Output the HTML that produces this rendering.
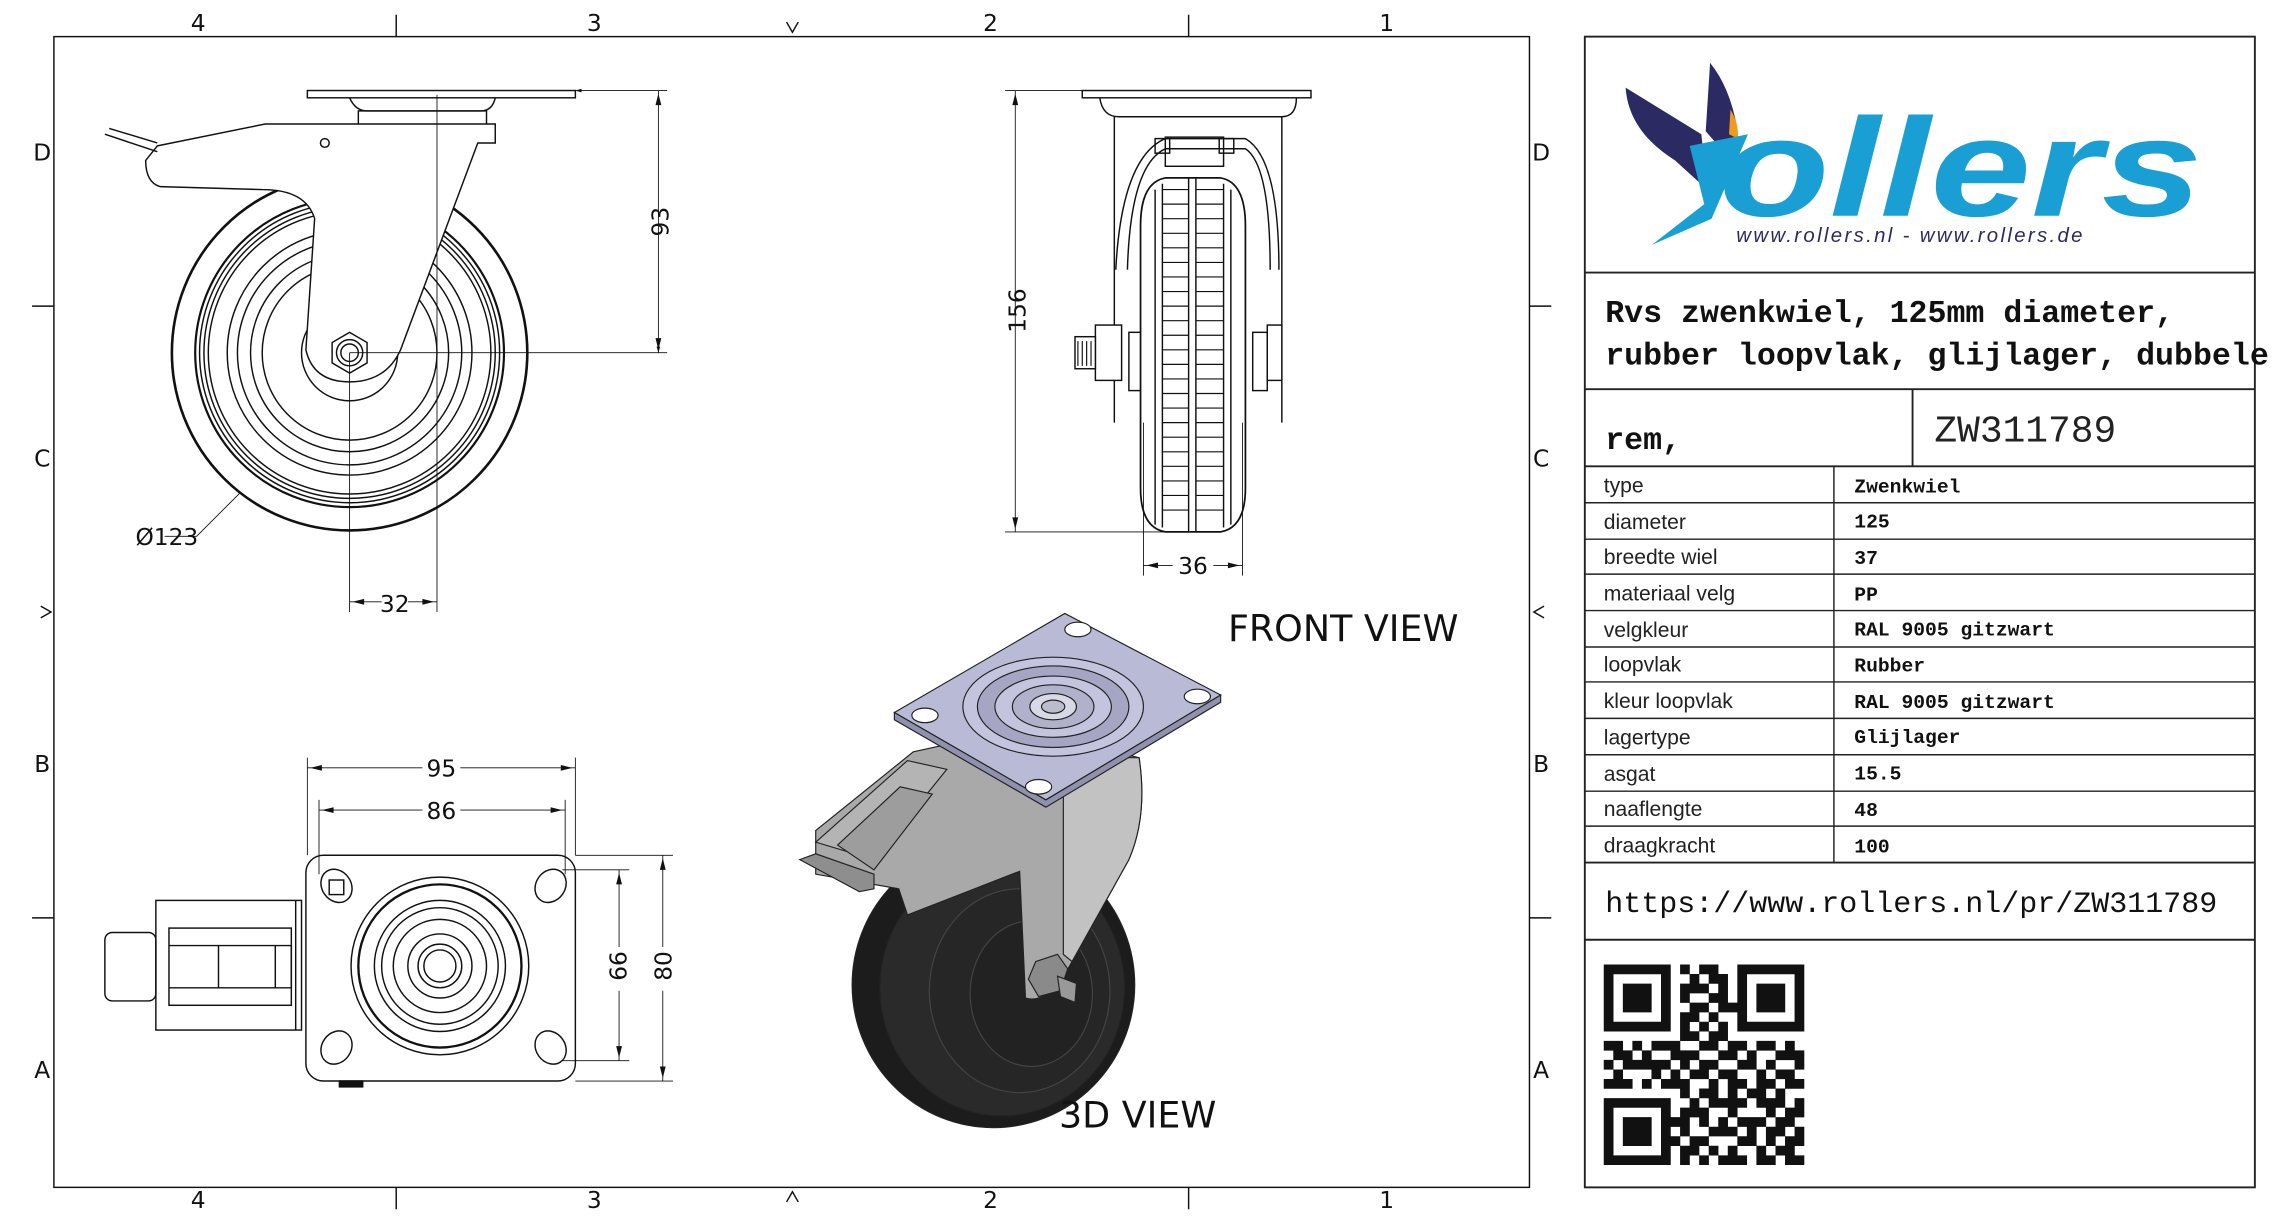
<!DOCTYPE html>
<html><head><meta charset="utf-8"><style>
html,body{margin:0;padding:0;background:#fff;width:2284px;height:1224px;overflow:hidden}
svg{display:block}
.d{font-family:"DejaVu Sans","Liberation Sans",sans-serif;font-size:16px;fill:#111}
.ln{stroke:#111;stroke-width:1;fill:none}
.th{stroke:#111;stroke-width:0.6;fill:none}
.lb{font-family:"Liberation Sans",sans-serif;font-size:14.5px;fill:#222}
.vl{font-family:"Liberation Mono",monospace;font-weight:bold;font-size:13.5px;fill:#111}
</style></head><body>
<svg width="2284" height="1224" viewBox="0 0 1568 840" xmlns="http://www.w3.org/2000/svg">
<defs>
<marker id="a" viewBox="0 0 10 10" refX="10" refY="5" markerWidth="7" markerHeight="7" orient="auto-start-reverse"><path d="M0,2 L10,5 L0,8z" fill="#111"/></marker>
</defs>
<!-- frame -->
<rect x="37" y="25" width="1013" height="790" class="ln" stroke-width="1.3"/>
<g class="ln">
<path d="M272 10V25M816 10V25M272 815V830M816 815V830M22 210H37M22 630H37M1050 210H1065M1050 630H1065"/>
</g>
<path d="M540 15l4 7 4-7M540 825l4-7 4 7M28 416l7 4-7 4M1060 416l-7 4 7 4" class="ln"/>
<g class="d" font-size="15" text-anchor="middle">
<text x="136" y="21">4</text><text x="408" y="21">3</text><text x="680" y="21">2</text><text x="952" y="21">1</text>
<text x="136" y="829">4</text><text x="408" y="829">3</text><text x="680" y="829">2</text><text x="952" y="829">1</text>
<text x="29" y="110">D</text><text x="29" y="320">C</text><text x="29" y="530">B</text><text x="29" y="740">A</text>
<text x="1058" y="110">D</text><text x="1058" y="320">C</text><text x="1058" y="530">B</text><text x="1058" y="740">A</text>
</g>

<!-- SIDE VIEW -->
<g class="ln">
<rect x="211" y="62" width="184" height="5"/>
<path d="M240 67 Q244 76 252 76 H330 Q338 76 340 67"/>
<rect x="246" y="76" width="88" height="12"/>
<circle cx="240" cy="242" r="122" stroke-width="1.8"/>
<circle cx="240" cy="242" r="106" stroke-width="1.5"/>
<circle cx="240" cy="242" r="103"/><circle cx="240" cy="242" r="100"/><circle cx="240" cy="242" r="97"/>
<circle cx="240" cy="242" r="84"/><circle cx="240" cy="242" r="77"/><circle cx="240" cy="242" r="68"/><circle cx="240" cy="242" r="60"/>
<circle cx="240" cy="242" r="33"/>
<path d="M108 100 L182 85 L340 85 L340 98 L328 98 L275 240 Q265 262 240 262 Q215 262 210 240 L216 150 Q210 130 180 130 L110 128 Q100 125 100 110 Z" fill="#fff"/>
<path d="M72 92 L108 104 M75 88 L108 98"/>
<circle cx="223" cy="98" r="3"/>
<polygon points="240,228 252,235 252,249 240,256 228,249 228,235" fill="#fff"/>
<circle cx="240" cy="242" r="9"/><circle cx="240" cy="242" r="6"/>
</g>
<g class="th">
<path d="M395 62H458M240 242H458M452 62V242" marker-start="url(#a)" marker-end="url(#a)"/>
<path d="M240 242V420M300 65V420"/>
<path d="M240 413H262M280 413H300" />
<path d="M113 368 H135 L165 338"/>
</g>
<path d="M240 413h0" class="th"/>
<path d="M242 413 l8-2v4z M298 413 l-8-2v4z" fill="#111"/>
<path d="M452 64 l-2 8h4z M452 240 l-2-8h4z" fill="#111"/>
<text class="d" x="271" y="420" text-anchor="middle">32</text>
<text class="d" transform="translate(459,152) rotate(-90)" text-anchor="middle">93</text>
<text class="d" x="93" y="374">Ø123</text>

<!-- FRONT VIEW -->
<g class="ln">
<rect x="743" y="62" width="157" height="5"/>
<path d="M755 67 Q757 80 768 80 H880 Q890 80 890 67"/>
<path d="M765 80 V290 M880 80 V290 M766 185 Q770 108 800 95 H855 Q878 108 878 185"/>
<path d="M774 185 Q776 113 800 102 H855 Q872 113 872 185"/>
<rect x="800" y="94" width="40" height="20"/><rect x="793" y="95" width="10" height="10"/><rect x="837" y="95" width="10" height="10"/>
<rect x="775" y="228" width="10" height="40"/><rect x="860" y="228" width="10" height="40"/>
<path d="M783 155 Q783 125 800 122 H838 Q855 125 855 155 V335 Q855 362 838 365 H800 Q783 362 783 335 Z" fill="#fff" stroke-width="1.2"/>
<path d="M793 130 V360 M845 130 V360 M798 126 V362 M840 126 V362 M816 122 V365 M821 122 V365"/>
<rect x="752" y="223" width="18" height="38" fill="#fff"/>
<rect x="738" y="231" width="14" height="22" fill="#fff"/>
<rect x="870" y="223" width="10" height="38" fill="#fff"/>
</g>
<g stroke="#111" stroke-width="0.8">
<path d="M798 130H816M798 140H816M798 150H816M798 160H816M798 170H816M798 180H816M798 190H816M798 200H816M798 210H816M798 220H816M798 230H816M798 240H816M798 250H816M798 260H816M798 270H816M798 280H816M798 290H816M798 300H816M798 310H816M798 320H816M798 330H816M798 340H816M798 350H816"/>
<path d="M821 130H840M821 140H840M821 150H840M821 160H840M821 170H840M821 180H840M821 190H840M821 200H840M821 210H840M821 220H840M821 230H840M821 240H840M821 250H840M821 260H840M821 270H840M821 280H840M821 290H840M821 300H840M821 310H840M821 320H840M821 330H840M821 340H840M821 350H840"/>
<path d="M740 234V251M743 234V251M746 234V251M749 234V251"/>
</g>
<g class="th">
<path d="M690 62H745M690 365H800M697 62V365M785 290V395M853 290V395M785 388H805M833 388H853"/>
</g>
<path d="M697 64 l-2 8h4z M697 363 l-2-8h4z M787 388 l8-2v4z M851 388 l-8-2v4z" fill="#111"/>
<text class="d" transform="translate(704,213) rotate(-90)" text-anchor="middle">156</text>
<text class="d" x="819" y="394" text-anchor="middle">36</text>

<!-- TOP VIEW -->
<g class="ln">
<rect x="210" y="587" width="185" height="155" rx="12"/>
<ellipse cx="231" cy="608" rx="10" ry="12" transform="rotate(-35 231 608)"/>
<ellipse cx="378" cy="608" rx="10" ry="12" transform="rotate(35 378 608)"/>
<ellipse cx="231" cy="719" rx="10" ry="12" transform="rotate(35 231 719)"/>
<ellipse cx="378" cy="719" rx="10" ry="12" transform="rotate(-35 378 719)"/>
<rect x="226" y="604" width="10" height="10"/>
<circle cx="302" cy="663" r="61"/><circle cx="302" cy="663" r="56" stroke-width="1.6"/>
<circle cx="302" cy="663" r="45"/><circle cx="302" cy="663" r="40"/><circle cx="302" cy="663" r="32"/>
<circle cx="302" cy="663" r="22"/><circle cx="302" cy="663" r="15"/><circle cx="302" cy="663" r="11"/>
<rect x="107" y="618" width="100" height="89"/><path d="M203 618V707"/>
<rect x="116" y="637" width="84" height="53"/>
<path d="M116 649H200M116 678H200M150 649V678M189 649V678M200 649V678"/>
<rect x="72" y="640" width="35" height="47" rx="5"/>
<rect x="233" y="742" width="16" height="4" fill="#111"/>
</g>
<g class="th">
<path d="M211 520V587M395 520V587M219 549V600M388 549V600M395 587H462M395 742H462M386 597H432M386 728H432"/>
<path d="M211 527H290M316 527H395M219 556H290M316 556H388"/>
<path d="M455 587V650M455 680V742M425 597V650M425 680V728"/>
</g>
<path d="M213 527l8-2v4z M393 527l-8-2v4z M221 556l8-2v4z M386 556l-8-2v4z M455 589l-2 8h4z M455 740l-2-8h4z M425 599l-2 8h4z M425 726l-2-8h4z" fill="#111"/>
<text class="d" x="303" y="533" text-anchor="middle">95</text>
<text class="d" x="303" y="562" text-anchor="middle">86</text>
<text class="d" transform="translate(430,663) rotate(-90)" text-anchor="middle">66</text>
<text class="d" transform="translate(461,663) rotate(-90)" text-anchor="middle">80</text>

<!-- 3D VIEW -->
<g stroke="#222" stroke-width="0.8">
<ellipse cx="682" cy="676" rx="97" ry="98" fill="#1c1c1c"/>
<ellipse cx="688" cy="678" rx="84" ry="88" fill="#2a2a2a"/>
<ellipse cx="700" cy="680" rx="62" ry="70" fill="#262626" stroke="#444"/>
<ellipse cx="708" cy="682" rx="42" ry="50" fill="#222" stroke="#444"/>
<path d="M627 516 L700 500 L782 520 Q788 560 775 590 L736 660 Q720 690 704 685 L700 598 L623 628 L617 610 L560 600 L560 570 L627 516 Z" fill="#a9a9a9"/>
<path d="M730 520 L782 520 Q788 560 775 590 L736 660 L730 655 Z" fill="#c2c2c2"/>
<path d="M560 578 L623 522 L650 528 L600 590 Z" fill="#b4b4b4"/>
<path d="M575 580 L618 540 L640 545 L600 597 Z" fill="#9d9d9d"/>
<path d="M549 590 L560 586 L600 600 L600 610 L590 612 Z" fill="#8e8e8e"/>
<path d="M614 489 L731 421 L838 477 L718 549 Z" fill="#b9bbd6"/>
<path d="M614 489 L614 494 L718 554 L838 482 L838 477 L718 549 Z" fill="#8f91ad"/>
<ellipse cx="723" cy="485" rx="62" ry="34" fill="#c3c5de"/>
<ellipse cx="723" cy="485" rx="52" ry="28" fill="#a4a6c4"/>
<ellipse cx="723" cy="485" rx="40" ry="21" fill="#c3c5de"/>
<ellipse cx="723" cy="485" rx="28" ry="15" fill="#b0b2cc"/>
<ellipse cx="723" cy="485" rx="16" ry="9" fill="#d8d9e6"/>
<ellipse cx="723" cy="485" rx="8" ry="4.5" fill="#bbbccc"/>
<ellipse cx="740" cy="432" rx="9" ry="5" fill="#fff"/>
<ellipse cx="822" cy="478" rx="9" ry="5" fill="#fff"/>
<ellipse cx="635" cy="491" rx="9" ry="5" fill="#fff"/>
<ellipse cx="713" cy="540" rx="9" ry="5" fill="#fff"/>
<polygon points="711,660 726,655 733,665 728,680 713,684 706,672" fill="#8a8a8a"/>
<path d="M726 670 L739 675 L738 688 L728 684Z" fill="#999"/>
</g>
<text x="843" y="440" font-family="DejaVu Sans,Liberation Sans,sans-serif" font-size="25" fill="#111">FRONT VIEW</text>
<text x="727" y="774" font-family="DejaVu Sans,Liberation Sans,sans-serif" font-size="25" fill="#111">3D VIEW</text>

<!-- RIGHT PANEL -->
<g stroke="#222" stroke-width="1.3" fill="none">
<rect x="1088" y="25" width="460" height="790"/>
<path d="M1088 187H1548M1088 267H1548M1088 320H1548M1313 267V320M1088 592H1548M1088 645H1548"/>
</g>
<g stroke="#222" stroke-width="1" fill="none">
<path d="M1259 320V592M1088 345H1548M1088 370H1548M1088 394H1548M1088 419H1548M1088 444H1548M1088 468H1548M1088 493H1548M1088 518H1548M1088 543H1548M1088 567H1548"/>
</g>
<!-- logo -->
<path d="M1116 60 L1168 92 L1172 130 L1150 110 Q1118 90 1116 60Z" fill="#2b2a63"/>
<path d="M1174 43 Q1188 60 1193 90 L1185 106 L1171 90 Z" fill="#2b2a63"/>
<path d="M1188 75 Q1194 85 1193 95 L1187 92Z" fill="#f19a1b"/>
<path d="M1160 100 L1200 92 L1175 150 L1134 168 L1170 140 Z" fill="#1a9fd4"/>
<text x="1180" y="148" font-family="Liberation Sans,sans-serif" font-weight="bold" font-style="italic" font-size="96" fill="#1a9fd4" textLength="332" lengthAdjust="spacingAndGlyphs">ollers</text>
<text x="1192" y="166" font-family="Liberation Sans,sans-serif" font-style="italic" font-size="14" fill="#2b2a63" letter-spacing="1.6">www.rollers.nl  -  www.rollers.de</text>
<g font-family="Liberation Mono,monospace" font-weight="bold" font-size="21.7" fill="#111">
<text x="1102" y="221">Rvs zwenkwiel, 125mm diameter,</text>
<text x="1102" y="250">rubber loopvlak, glijlager, dubbele</text>
<text x="1102" y="308">rem,</text>
</g>
<text x="1328" y="303" font-family="Liberation Mono,monospace" font-size="26" fill="#222">ZW311789</text>
<g class="lb">
<text x="1101" y="338">type</text><text x="1101" y="363">diameter</text><text x="1101" y="387">breedte wiel</text>
<text x="1101" y="412">materiaal velg</text><text x="1101" y="437">velgkleur</text><text x="1101" y="461">loopvlak</text>
<text x="1101" y="486">kleur loopvlak</text><text x="1101" y="511">lagertype</text><text x="1101" y="536">asgat</text>
<text x="1101" y="560">naaflengte</text><text x="1101" y="585">draagkracht</text>
</g>
<g class="vl">
<text x="1273" y="338">Zwenkwiel</text><text x="1273" y="362">125</text><text x="1273" y="387">37</text>
<text x="1273" y="412">PP</text><text x="1273" y="436">RAL 9005 gitzwart</text><text x="1273" y="461">Rubber</text>
<text x="1273" y="486">RAL 9005 gitzwart</text><text x="1273" y="510">Glijlager</text><text x="1273" y="535">15.5</text>
<text x="1273" y="560">48</text><text x="1273" y="585">100</text>
</g>
<text x="1102" y="626" font-family="Liberation Mono,monospace" font-size="20.6" fill="#111">https://www.rollers.nl/pr/ZW311789</text>
<g id="qr" transform="translate(1101,662) scale(6.55)" fill="#111"></g>
</svg>
<script>
(function(){
var rows=["111111101011001111111","100000100101101000001","101110101110101011101","101110101001101011101","101110100110111011101","100000101101001000001","111111101010101111111","000000001101100000000","110101110011011011010","011010011100110100111","101111101011001101001","010001010110110010110","111010111001011011011","000000001011010110100","111111100101111011101","100000101110010001011","101110111010101110110","101110101001110101101","101110110110001101011","100000101101010010110","111111101010111011011"];
var g=document.getElementById('qr'),s='';
for(var y=0;y<21;y++)for(var x=0;x<21;x++)if(rows[y][x]=='1')s+='M'+x+' '+y+'h1.02v1.02h-1.02z';
var p=document.createElementNS('http://www.w3.org/2000/svg','path');p.setAttribute('d',s);g.appendChild(p);
})();
</script>
</body></html>
